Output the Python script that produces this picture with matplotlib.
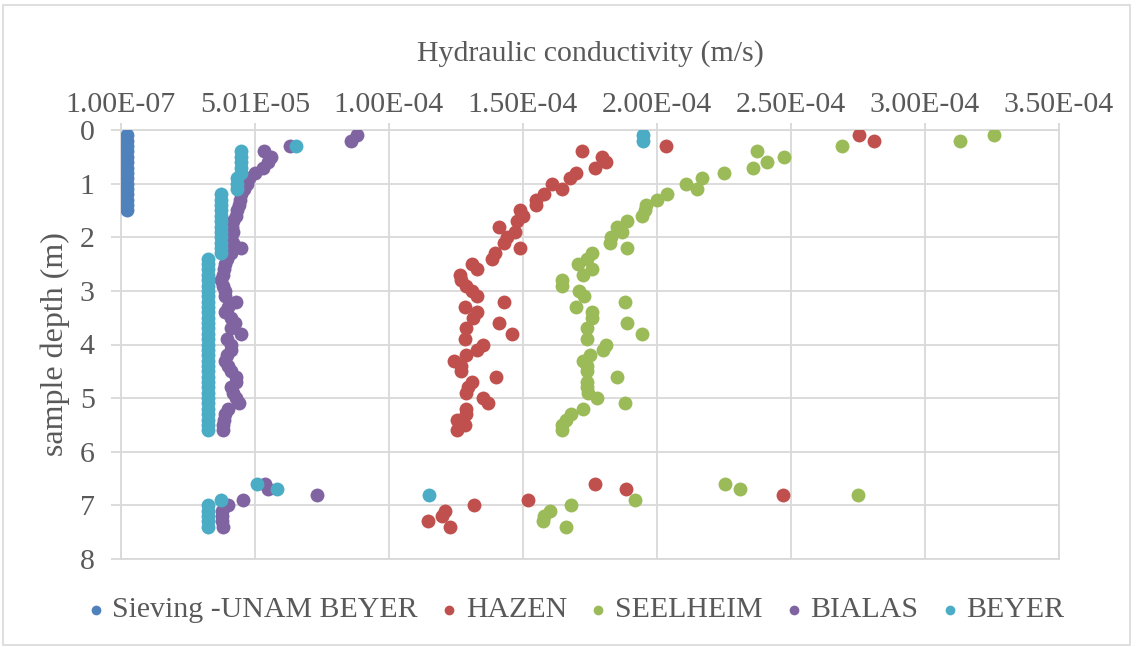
import matplotlib
matplotlib.use("Agg")
import matplotlib.pyplot as plt
from matplotlib.patches import Rectangle

# sample depths (m)
depth_sieving = [0.1, 0.2, 0.3, 0.4, 0.5, 0.6, 0.7, 0.8, 0.9, 1.0, 1.1, 1.2, 1.3, 1.4, 1.5]
depth = [0.1, 0.2, 0.3, 0.4, 0.5, 0.6, 0.7, 0.8, 0.9, 1.0,
         1.1, 1.2, 1.3, 1.4, 1.5, 1.6, 1.7, 1.8, 1.9, 2.0,
         2.1, 2.2, 2.3, 2.4, 2.5, 2.6, 2.7, 2.8, 2.9, 3.0,
         3.1, 3.2, 3.3, 3.4, 3.5, 3.6, 3.7, 3.8, 3.9, 4.0,
         4.1, 4.2, 4.3, 4.4, 4.5, 4.6, 4.7, 4.8, 4.9, 5.0,
         5.1, 5.2, 5.3, 5.4, 5.5, 5.6,
         6.6, 6.7, 6.8, 6.9, 7.0, 7.1, 7.2, 7.3, 7.4]

# hydraulic conductivity, in units of 1e-5 m/s
k_sieving = [0.22] * 15
k_hazen = [27.55, 28.1, 20.35, 17.2, 17.95, 18.1, 17.7, 17.0, 16.75, 16.1,
           16.45, 15.8, 15.5, 15.5, 14.9, 15.0, 14.8, 14.1, 14.7, 14.4,
           14.3, 14.9, 13.95, 13.85, 13.1, 13.3, 12.65, 12.7, 12.9, 13.1,
           13.3, 14.3, 12.85, 13.3, 13.15, 14.1, 12.9, 14.6, 12.85, 13.5,
           13.3, 12.9, 12.45, 12.7, 12.7, 14.0, 13.1, 12.95, 12.9, 13.5,
           13.7, 12.9, 12.9, 12.55, 12.85, 12.55,
           17.7, 18.85, 24.7, 15.2, 13.2, 12.1, 12.0, 11.46, 12.3]
k_seelheim = [32.6, 31.3, 26.9, 23.75, 24.75, 24.1, 23.6, 22.5, 21.7, 21.1,
              21.5, 20.4, 20.0, 19.6, 19.55, 19.45, 18.9, 18.5, 18.7, 18.3,
              18.25, 18.9, 17.6, 17.4, 17.06, 17.6, 17.25, 16.45, 16.45, 17.1,
              17.3, 18.8, 17.0, 17.6, 17.6, 18.9, 17.4, 19.45, 17.4, 18.1,
              18.0, 17.5, 17.25, 17.4, 17.4, 18.5, 17.4, 17.4, 17.45, 17.76,
              18.8, 17.25, 16.8, 16.6, 16.45, 16.45,
              22.55, 23.1, 27.5, 19.2, 16.8, 16.0, 15.8, 15.75, 16.6]
k_bialas = [8.8, 8.6, 6.3, 5.35, 5.6, 5.5, 5.3, 5.0, 4.8, 4.7,
            4.6, 4.5, 4.45, 4.4, 4.35, 4.3, 4.2, 4.15, 4.2, 4.1,
            4.2, 4.5, 4.1, 3.95, 3.9, 3.85, 3.8, 3.75, 3.8, 3.9,
            3.9, 4.3, 4.0, 3.9, 4.1, 4.25, 4.1, 4.5, 3.95, 4.1,
            4.1, 3.95, 3.9, 4.0, 4.1, 4.3, 4.3, 4.1, 4.2, 4.3,
            4.4, 4.0, 3.9, 3.85, 3.8, 3.8,
            5.38, 5.5, 7.32, 4.56, 4.0, 3.78, 3.78, 3.78, 3.8]
k_beyer = [19.5, 19.5, 6.55, 4.5, 4.5, 4.5, 4.5, 4.5, 4.35, 4.35,
           4.35, 3.73, 3.73, 3.73, 3.73, 3.73, 3.73, 3.73, 3.73, 3.73,
           3.73, 3.73, 3.73, 3.25, 3.25, 3.25, 3.25, 3.25, 3.25, 3.25,
           3.25, 3.25, 3.25, 3.25, 3.25, 3.25, 3.25, 3.25, 3.25, 3.25,
           3.25, 3.25, 3.25, 3.25, 3.25, 3.25, 3.25, 3.25, 3.25, 3.25,
           3.25, 3.25, 3.25, 3.25, 3.25, 3.25,
           5.08, 5.83, 11.5, 3.74, 3.26, 3.26, 3.26, 3.26, 3.26]

series_names = ["Sieving -UNAM BEYER", "HAZEN", "SEELHEIM", "BIALAS", "BEYER"]
series_colors = ["#4F81BD", "#C0504D", "#9BBB59", "#8064A2", "#4BACC6"]

x_ticks = [1e-7, 5.01e-5, 1.001e-4, 1.501e-4, 2.001e-4, 2.501e-4, 3.001e-4, 3.501e-4]
x_ticklabels = ["1.00E-07", "5.01E-05", "1.00E-04", "1.50E-04",
                "2.00E-04", "2.50E-04", "3.00E-04", "3.50E-04"]
y_ticks = [0, 1, 2, 3, 4, 5, 6, 7, 8]

plt.rcParams["font.family"] = ["Liberation Serif", "DejaVu Serif"]
text_col = "#595959"
grid_col = "#D9D9D9"
fs = 21.5

fig = plt.figure(figsize=(11.39, 6.47), dpi=100)
ax = fig.add_axes([121 / 1139, 1 - 559 / 647, (1059 - 121) / 1139, (559 - 130) / 647])

all_x = [k_sieving, k_hazen, k_seelheim, k_bialas, k_beyer]
all_y = [depth_sieving, depth, depth, depth, depth]
for xs, ys, name, col in zip(all_x, all_y, series_names, series_colors):
    ax.scatter([v * 1e-5 for v in xs], ys, s=100, color=col, label=name,
               linewidths=0, zorder=3)

ax.set_xlim(1e-7, 3.501e-4)
ax.set_ylim(8, 0)
ax.xaxis.tick_top()
ax.xaxis.set_label_position("top")
ax.set_xticks(x_ticks)
ax.set_xticklabels(x_ticklabels)
ax.set_yticks(y_ticks)
ax.tick_params(axis="both", colors=grid_col, labelcolor=text_col, labelsize=fs,
               length=7, width=1.3)
ax.tick_params(axis="x", pad=4, length=5)
ax.tick_params(axis="y", pad=12)
ax.grid(True, color=grid_col, linewidth=1.3)
ax.set_axisbelow(True)
for sp in ax.spines.values():
    sp.set_color(grid_col)
    sp.set_linewidth(1.3)

ax.set_xlabel("Hydraulic conductivity (m/s)", fontsize=fs, color=text_col, labelpad=22)
ax.set_ylabel("sample depth (m)", fontsize=23, color=text_col, labelpad=7)

fig.legend(loc="center", bbox_to_anchor=(0.506, 1 - 610 / 647), ncol=5, frameon=False,
           fontsize=fs, labelcolor=text_col, handlelength=0.5, handletextpad=0.3,
           columnspacing=0.8, markerscale=0.7, borderaxespad=0)

# chart area border
fig.patches.append(Rectangle((3 / 1139, 2 / 647), 1127 / 1139, 640 / 647, transform=fig.transFigure,
                             fill=False, edgecolor=grid_col, linewidth=1.2))

fig.savefig("out.png", dpi=100)
